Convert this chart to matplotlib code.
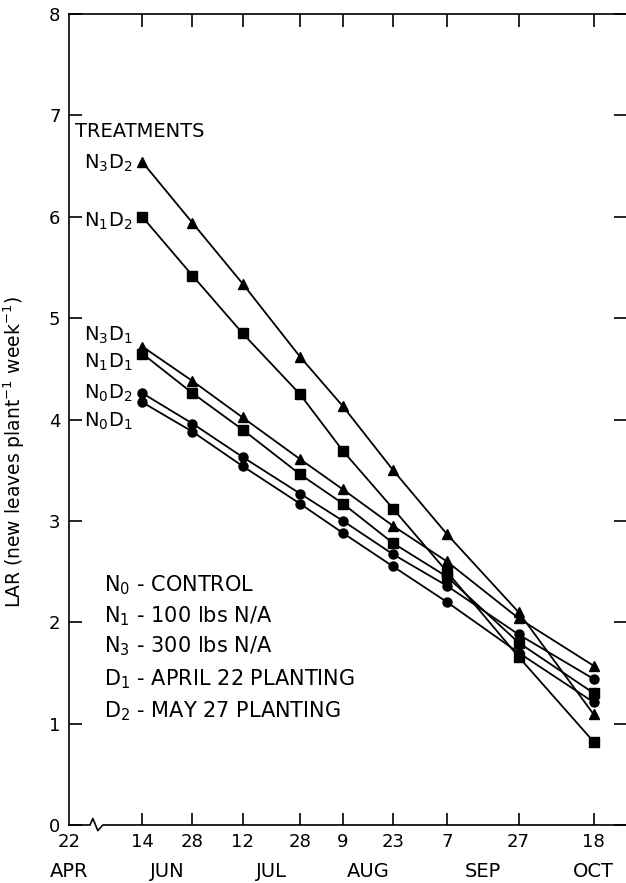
import numpy as np
import matplotlib
matplotlib.use("Agg")
import matplotlib.pyplot as plt

# sampling dates as day of year
days = [165, 179, 193, 209, 221, 235, 250, 270, 291]
day_labels = ["14", "28", "12", "28", "9", "23", "7", "27", "18"]
start_day_label = "22"          # 22 APR, drawn at the broken left end
months = ["APR", "JUN", "JUL", "AUG", "SEP", "OCT"]
month_days = [None, 172, 201, 228, 260, 291]

# LAR values per treatment
n3d2 = [6.54, 5.94, 5.34, 4.62, 4.13, 3.50, 2.87, 2.10, 1.09]
n1d2 = [6.00, 5.42, 4.85, 4.25, 3.69, 3.12, 2.50, 1.66, 0.82]
n3d1 = [4.72, 4.38, 4.02, 3.61, 3.31, 2.95, 2.60, 2.04, 1.57]
n1d1 = [4.65, 4.26, 3.90, 3.46, 3.17, 2.78, 2.45, 1.80, 1.30]
n0d2 = [4.26, 3.96, 3.63, 3.27, 3.00, 2.67, 2.36, 1.88, 1.44]
n0d1 = [4.17, 3.88, 3.54, 3.17, 2.88, 2.55, 2.20, 1.70, 1.21]

series = [n3d2, n1d2, n3d1, n1d1, n0d2, n0d1]
markers = ["^", "s", "^", "s", "o", "o"]
names = [r"N$_3$D$_2$", r"N$_1$D$_2$", r"N$_3$D$_1$", r"N$_1$D$_1$",
         r"N$_0$D$_2$", r"N$_0$D$_1$"]
name_y = [6.53, 5.95, 4.83, 4.56, 4.26, 3.98]

key_lines = [r"N$_0$ - CONTROL", r"N$_1$ - 100 lbs N/A", r"N$_3$ - 300 lbs N/A",
             r"D$_1$ - APRIL 22 PLANTING", r"D$_2$ - MAY 27 PLANTING"]
key_y = [2.37, 2.06, 1.76, 1.44, 1.12]

plt.rcParams['font.family'] = ['DejaVu Sans']
plt.rcParams['mathtext.fontset'] = 'dejavusans'

fig = plt.figure(figsize=(6.26, 8.83), dpi=100)
ax = fig.add_axes([0.110, 0.0657, 0.890, 0.9184])

x0, x1 = 144.5, 300.0
ax.set_xlim(x0, x1)
ax.set_ylim(0, 8)

# plot each treatment
for vals, mk in zip(series, markers):
    ms = 7.5 if mk == "^" else 6.5
    ax.plot(days, vals, color="black", lw=1.3, marker=mk, ms=ms,
            markerfacecolor="black", markeredgecolor="black", clip_on=False)

# ticks
ax.set_xticks([x0] + days)
ax.set_xticklabels([start_day_label] + day_labels, fontsize=13)
ax.set_yticks(range(0, 9))
ax.set_yticklabels([str(i) for i in range(0, 9)], fontsize=13)
ax.tick_params(axis="both", direction="in", length=9, width=1.2,
               top=True, right=True, labeltop=False, labelright=False)
ax.tick_params(axis="x", pad=6)
ax.tick_params(axis="y", pad=6)
ax.xaxis.get_major_ticks()[0].tick1line.set_visible(False)
ax.xaxis.get_major_ticks()[0].tick2line.set_visible(False)

# month names under the day numbers
for m, d in zip(months, month_days):
    xm = x0 if d is None else d
    ax.text(xm, -0.057, m, transform=ax.get_xaxis_transform(),
            ha="center", va="center", fontsize=14)

# spines: broken bottom axis, no right spine
for s in ["left", "top"]:
    ax.spines[s].set_linewidth(1.2)
ax.spines["right"].set_visible(False)
ax.spines["bottom"].set_visible(False)
bx = [0.0, 0.038, 0.043, 0.052, 0.061, 1.0]
by = [0.0, 0.0, 0.008, -0.007, 0.0, 0.0]
ax.plot(bx, by, color="black", lw=1.2, transform=ax.transAxes, clip_on=False)

ax.set_ylabel(r"LAR (new leaves plant$^{-1}$ week$^{-1}$)", fontsize=13.5)
ax.yaxis.set_label_coords(-0.076, 0.46)

# treatment labels
ax.text(0.011, 6.84, "TREATMENTS", fontsize=14, ha="left", va="center",
        transform=ax.get_yaxis_transform())
for nm, yv in zip(names, name_y):
    ax.text(0.027, yv, nm, fontsize=14, ha="left", va="center",
            transform=ax.get_yaxis_transform())

# key
for txt, yv in zip(key_lines, key_y):
    ax.text(0.063, yv, txt, fontsize=15, ha="left", va="center",
            transform=ax.get_yaxis_transform())

fig.savefig("out.png", dpi=100)
